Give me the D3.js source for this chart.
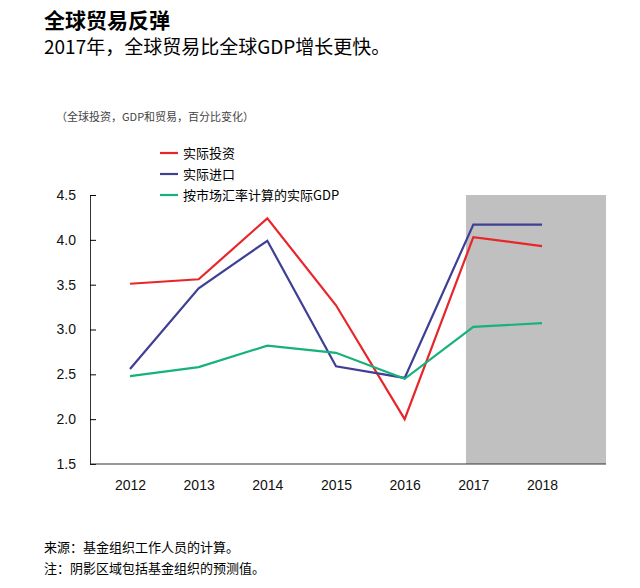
<!DOCTYPE html>
<html><head><meta charset="utf-8">
<script src="https://cdn.jsdelivr.net/npm/d3@7"></script>
<style>body{margin:0;background:#fff;font-family:"Noto Sans CJK SC","Noto Sans",sans-serif;}</style>
</head><body><svg id="c" width="640" height="588"></svg>
<script>
var years = ['2012','2013','2014','2015','2016','2017','2018'];
var investment = [3.51, 3.56, 4.24, 3.27, 2.00, 4.03, 3.93];
var imports = [2.56, 3.46, 3.99, 2.59, 2.46, 4.17, 4.17];
var gdp = [2.48, 2.58, 2.82, 2.74, 2.45, 3.03, 3.07];
var yTicks = [1.5, 2.0, 2.5, 3.0, 3.5, 4.0, 4.5];
var seriesNames = ['实际投资', '实际进口', '按市场汇率计算的实际GDP'];
var colors = ['#e8262a', '#3f3f94', '#16b27a'];

var svg = d3.select('#c');
var x = d3.scalePoint().domain(years).range([130, 542]);
var y = d3.scaleLinear().domain([1.5, 4.5]).range([464, 195]);

svg.append('rect').attr('x', 466).attr('y', y(4.5)).attr('width', 140).attr('height', y(1.5) - y(4.5)).attr('fill', '#c0c0c0');

svg.append('text').attr('x', 44).attr('y', 28).attr('font-size', 21).attr('font-weight', 'bold').text('全球贸易反弹');
svg.append('text').attr('x', 44).attr('y', 54).attr('font-size', 19).text('2017年，全球贸易比全球GDP增长更快。');
svg.append('text').attr('x', 56).attr('y', 121).attr('font-size', 11).attr('fill', '#444').text('（全球投资，GDP和贸易，百分比变化）');

var ya = svg.append('g').attr('transform', 'translate(90,0)')
  .call(d3.axisLeft(y).tickValues(yTicks).tickFormat(d3.format('.1f')).tickSize(-6).tickPadding(14));
var xa = svg.append('g').attr('transform', 'translate(0,464)')
  .call(d3.axisBottom(x).tickSize(0).tickPadding(16));
[ya, xa].forEach(function(g){
  g.selectAll('text').attr('font-size', 14).attr('fill', '#111').attr('font-family', 'Liberation Sans, sans-serif');
  g.select('.domain').attr('stroke', '#333');
});
xa.select('.domain').attr('d', 'M90,0H606');

var line = d3.line().x(function(d, i){ return x(years[i]); }).y(function(d){ return y(d); });
[investment, imports, gdp].forEach(function(s, i){
  svg.append('path').datum(s).attr('d', line).attr('fill', 'none').attr('stroke', colors[i]).attr('stroke-width', 2.2);
});

seriesNames.forEach(function(n, i){
  var ly = 153 + i * 21;
  svg.append('line').attr('x1', 160).attr('x2', 178).attr('y1', ly).attr('y2', ly).attr('stroke', colors[i]).attr('stroke-width', 2.2);
  svg.append('text').attr('x', 183).attr('y', ly + 5).attr('font-size', 13).text(n);
});

svg.append('text').attr('x', 44).attr('y', 552).attr('font-size', 13).text('来源：基金组织工作人员的计算。');
svg.append('text').attr('x', 44).attr('y', 573).attr('font-size', 13).text('注：阴影区域包括基金组织的预测值。');
</script></body></html>
